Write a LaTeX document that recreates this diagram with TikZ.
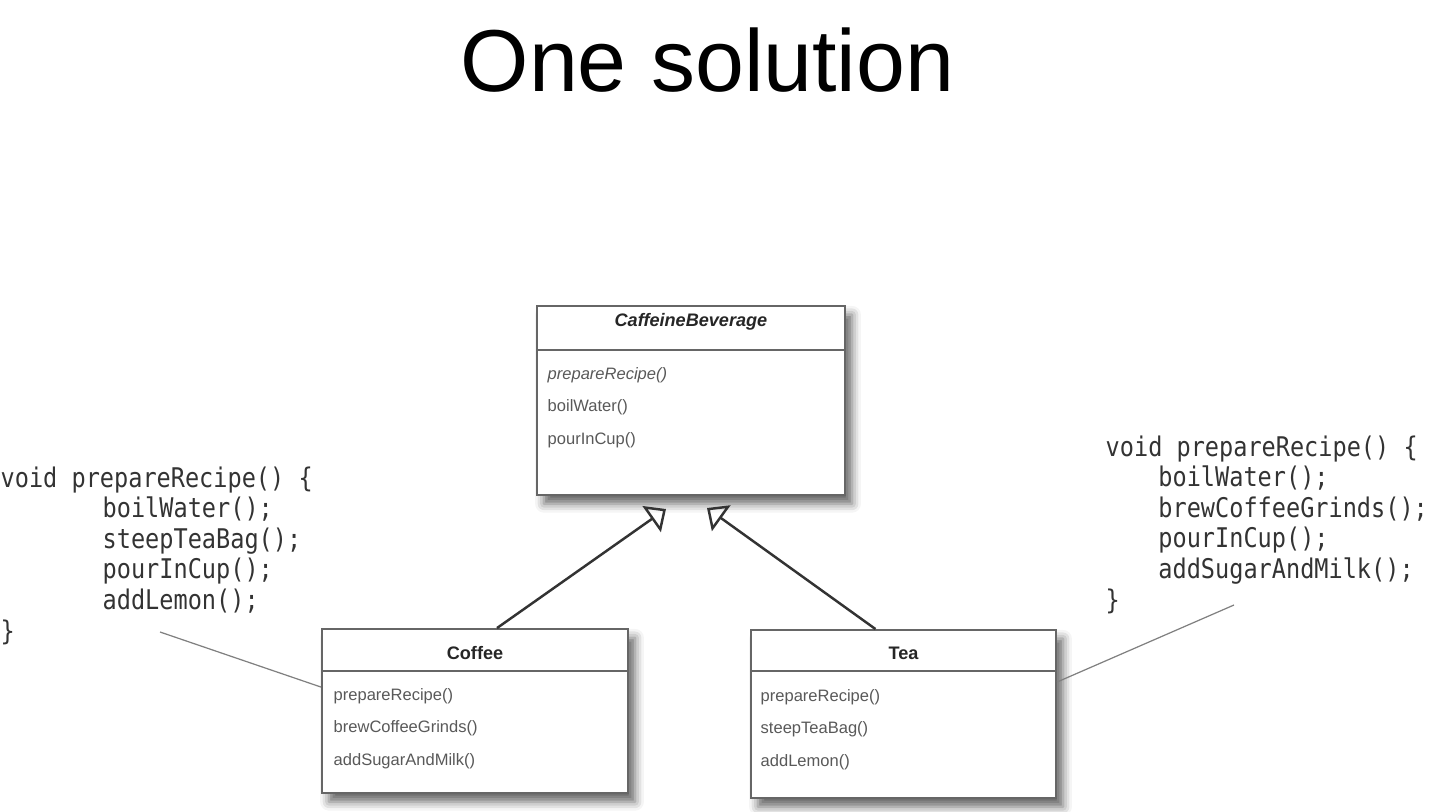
\documentclass[tikz,border=0pt]{standalone}
\usepackage{fontspec}
\setmainfont{Liberation Sans}
\newfontfamily\codefont[FakeStretch=0.87]{DejaVu Sans Mono}
\usetikzlibrary{arrows.meta,calc,positioning,shadows.blur}

\tikzset{
  classbox/.style={draw=black!60, line width=0.5pt, fill=white, inner sep=0pt,
    blur shadow={shadow xshift=2pt, shadow yshift=-2.5pt, shadow blur radius=2.5pt, shadow opacity=60}},
  classline/.style={draw=black!60, line width=0.5pt},
  classname/.style={font=\fontsize{5.15}{6}\selectfont\bfseries, text=black!85, inner sep=0pt, anchor=base},
  opslist/.style={font=\fontsize{4.7}{9.2}\selectfont, text=black!65, align=left, inner sep=0pt, anchor=base west},
  codeblock/.style={font=\codefont\fontsize{7.7}{8.7}\selectfont, text=black!80, align=left, inner sep=0pt, anchor=base west},
  inherit/.style={draw=black!80, line width=0.7pt, -{Triangle[open, length=5pt, width=9pt]}},
  noteline/.style={draw=black!50, line width=0.35pt},
}

\begin{document}
\begin{tikzpicture}[x=0.01cm, y=-0.01cm]
  \useasboundingbox (0,0) rectangle (1438,812);

  \node[font=\fontsize{25}{30}\selectfont, anchor=base, inner sep=0pt] (title) at (707.5,91) {One solution};

  % classes
  \node[classbox, minimum width=3.08cm, minimum height=1.89cm] (caffeine) at (691,400.5) {};
  \node[classbox, minimum width=3.06cm, minimum height=1.64cm] (coffee) at (475,711) {};
  \node[classbox, minimum width=3.05cm, minimum height=1.68cm] (tea) at (903.5,714) {};

  \draw[classline] ($(caffeine.north west)+(0,45)$) -- ($(caffeine.north east)+(0,45)$);
  \draw[classline] ($(coffee.north west)+(0,43)$) -- ($(coffee.north east)+(0,43)$);
  \draw[classline] ($(tea.north west)+(0,42)$) -- ($(tea.north east)+(0,42)$);

  \node[classname] (caffeineName) at (691,327) {\textit{CaffeineBeverage}};
  \node[classname] (coffeeName) at (475,659) {Coffee};
  \node[classname] (teaName) at (903.5,659) {Tea};

  % anchored at the last line
  \node[opslist] (caffeineOps) at (547,444) {\textit{prepareRecipe()}\\boilWater()\\pourInCup()};
  \node[opslist] (coffeeOps) at (333,765) {prepareRecipe()\\brewCoffeeGrinds()\\addSugarAndMilk()};
  \node[opslist] (teaOps) at (760,766) {prepareRecipe()\\steepTeaBag()\\addLemon()};

  % code notes
  \node[codeblock] (teaCode) at (0,640) {void prepareRecipe() \{\\
    \hspace*{29pt}boilWater();\\
    \hspace*{29pt}steepTeaBag();\\
    \hspace*{29pt}pourInCup();\\
    \hspace*{29pt}addLemon();\\
    \}};
  \node[codeblock] (coffeeCode) at (1105,609) {void prepareRecipe() \{\\
    \hspace*{15pt}boilWater();\\
    \hspace*{15pt}brewCoffeeGrinds();\\
    \hspace*{15pt}pourInCup();\\
    \hspace*{15pt}addSugarAndMilk();\\
    \}};

  \coordinate (tipCoffee) at (666,509);
  \coordinate (tipTea) at (707,508);
  \coordinate (noteLeft) at (160,632);
  \coordinate (noteRight) at (1234,605);

  \draw[inherit] ($(coffee.north)+(22,0)$) -- (tipCoffee);
  \draw[inherit] ($(tea.north)+(-28,0)$) -- (tipTea);

  \draw[noteline] (noteLeft) -- ($(coffee.north west)+(0,59)$);
  \draw[noteline] (noteRight) -- ($(tea.north east)+(0,53)$);
\end{tikzpicture}
\end{document}
